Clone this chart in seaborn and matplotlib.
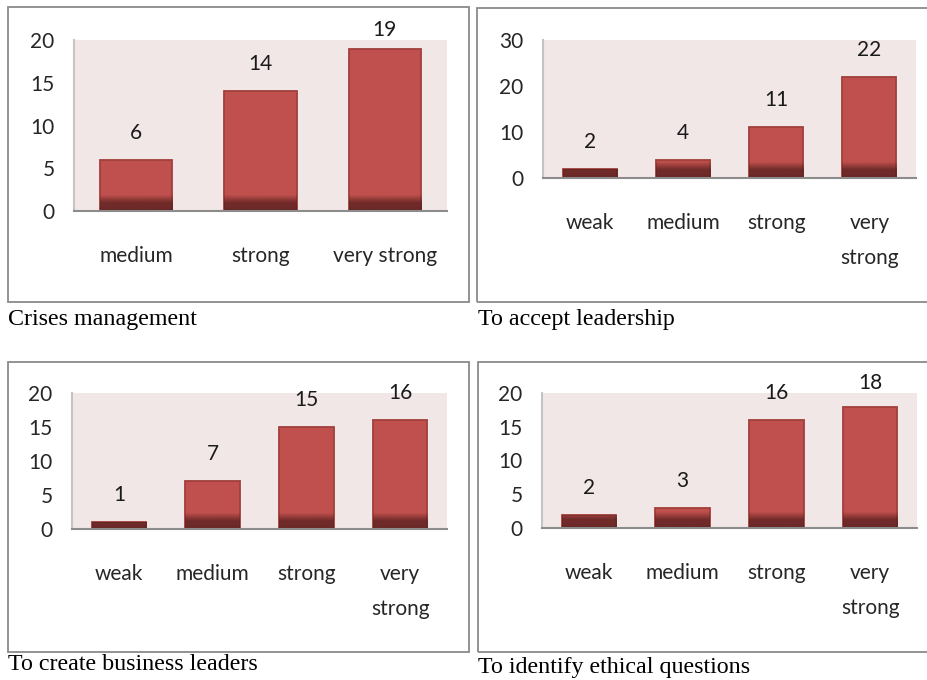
import numpy as np
import seaborn as sns
import matplotlib.pyplot as plt
from matplotlib.patches import Rectangle
from matplotlib.colors import to_rgb

# -------------------------------- datos -------------------------------- #
cats_crisis = ["medium", "strong", "very strong"]
vals_crisis = [6, 14, 19]

cats_accept = ["weak", "medium", "strong", "very\nstrong"]
vals_accept = [2, 4, 11, 22]

cats_create = ["weak", "medium", "strong", "very\nstrong"]
vals_create = [1, 7, 15, 16]

cats_ethic = ["weak", "medium", "strong", "very\nstrong"]
vals_ethic = [2, 3, 16, 18]

titles = ["Crises management", "To accept leadership",
          "To create business leaders", "To identify ethical questions"]

# -------------------------------- estilo -------------------------------- #
W, H, DPI = 927, 680, 100
BAR = "#C0504D"
BAR_EDGE = "#A13F3C"
DARK = "#4F1C1B"
PINK = "#F2E7E7"
BOX = "#8A8A8A"

sns.set_style("white")
plt.rcParams["font.family"] = ["Lato", "DejaVu Sans"]
plt.rcParams["text.color"] = "#1A1A1A"


def px_axes(x0, y0, x1, y1):
    # convierte pixeles (origen arriba-izquierda) a fraccion de figura
    return [x0 / W, 1 - y1 / H, (x1 - x0) / W, (y1 - y0) / H]


fig = plt.figure(figsize=(W / DPI, H / DPI), dpi=DPI)
fig.patch.set_facecolor("white")

# cajas y rotulos de cada panel
boxes = [(8, 7, 469, 302), (477, 8, 940, 302), (8, 362, 469, 652), (478, 362, 940, 652)]
captions = [(8, 319), (478, 319), (8, 665), (478, 667)]
for (x0, y0, x1, y1), (cx, cy), t in zip(boxes, captions, titles):
    fig.patches.append(Rectangle((x0 / W, 1 - y1 / H), (x1 - x0) / W, (y1 - y0) / H,
                                 transform=fig.transFigure, fill=False,
                                 edgecolor=BOX, linewidth=1.3))
    fig.text(cx / W, 1 - cy / H, t, ha="left", va="center", fontsize=17.3,
             family=["Liberation Serif", "DejaVu Serif"], color="black")

paneles = [
    (px_axes(74, 40, 447, 211), cats_crisis, vals_crisis, 20, 5),
    (px_axes(543, 40, 916, 178), cats_accept, vals_accept, 30, 10),
    (px_axes(72, 393, 447, 529), cats_create, vals_create, 20, 5),
    (px_axes(542, 393, 917, 528), cats_ethic, vals_ethic, 20, 5),
]

# degradado oscuro de la base de cada barra (16 px)
dark = np.array(to_rgb(DARK))
grad = np.zeros((32, 2, 4))
alpha = np.clip((np.linspace(0, 1, 32) - 0.02) / 0.5, 0, 1) * 0.72
alpha[-8:] = np.linspace(0.72, 0.82, 8)
grad[..., :3] = dark
grad[..., 3] = alpha[:, None]

for rect, cats, vals, ymax, step in paneles:
    ax = fig.add_axes(rect)
    ax.set_facecolor(PINK)
    sns.barplot(x=cats, y=vals, ax=ax, color=BAR, saturation=1, width=0.58,
                edgecolor=BAR_EDGE, linewidth=1.3, zorder=2)
    ax.set_ylim(0, ymax)
    ax.set_xlim(-0.5, len(cats) - 0.5)
    ax.set_yticks(np.arange(0, ymax + 1, step))
    ax.set_autoscale_on(False)

    h_px = rect[3] * H
    dpp = ymax / h_px
    for p, v in zip(ax.patches, vals):
        x0 = p.get_x()
        img = ax.imshow(grad, extent=(x0, x0 + p.get_width(), 0, 17 * dpp),
                        aspect="auto", zorder=3, interpolation="bilinear")
        img.set_clip_path(p)
        top = (ymax - v) / ymax * h_px
        off = min(27, top + 10)
        ax.annotate(str(v), xy=(x0 + p.get_width() / 2, v), xytext=(0, off * 0.72),
                    textcoords="offset points", ha="center", va="center",
                    fontsize=15, zorder=4)

    for s in ["top", "right"]:
        ax.spines[s].set_visible(False)
    ax.spines["left"].set_color("#C4C4C4")
    ax.spines["left"].set_linewidth(1.5)
    ax.spines["bottom"].set_color("#8C8C8C")
    ax.spines["bottom"].set_linewidth(1.5)
    ax.spines["bottom"].set_zorder(5)
    ax.tick_params(axis="both", length=0, labelsize=15)
    ax.tick_params(axis="y", pad=14)
    ax.tick_params(axis="x", pad=25)
    for lbl in ax.get_xticklabels():
        lbl.set_linespacing(1.95)
    ax.set_xlabel("")
    ax.set_ylabel("")

fig.savefig("out.png", dpi=DPI)
